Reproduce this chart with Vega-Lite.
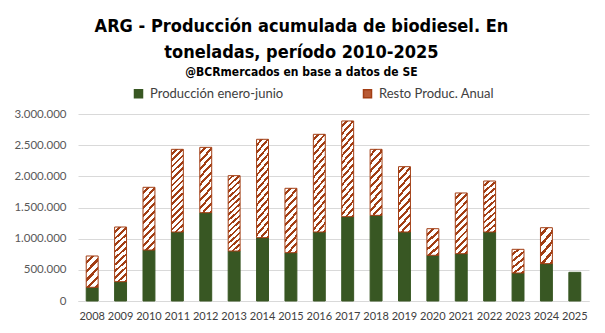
{
  "$schema": "https://vega.github.io/schema/vega-lite/v6.json",
  "width": 511,
  "height": 187,
  "autosize": "none",
  "padding": {"left": 78, "top": 114, "right": 16, "bottom": 32},
  "background": "white",
  "title": {
    "text": ["ARG - Producción acumulada de biodiesel. En", "toneladas, período 2010-2025"],
    "subtitle": "@BCRmercados en base a datos de SE",
    "anchor": "middle",
    "frame": "bounds",
    "font": "DejaVu Sans Condensed, Roboto, sans-serif",
    "fontSize": 18,
    "fontWeight": "bold",
    "color": "#000000",
    "lineHeight": 26,
    "subtitleFont": "DejaVu Sans Condensed, Roboto, sans-serif",
    "subtitleFontSize": 12,
    "subtitleFontWeight": "bold",
    "subtitleColor": "#000000",
    "subtitlePadding": 5,
    "offset": 9
  },
  "data": {
    "values": [
      {"anio": "2008", "serie": "Producción enero-junio", "valor": 220000},
      {"anio": "2009", "serie": "Producción enero-junio", "valor": 310000},
      {"anio": "2010", "serie": "Producción enero-junio", "valor": 818000},
      {"anio": "2011", "serie": "Producción enero-junio", "valor": 1107000},
      {"anio": "2012", "serie": "Producción enero-junio", "valor": 1417000},
      {"anio": "2013", "serie": "Producción enero-junio", "valor": 802000},
      {"anio": "2014", "serie": "Producción enero-junio", "valor": 1016000},
      {"anio": "2015", "serie": "Producción enero-junio", "valor": 775000},
      {"anio": "2016", "serie": "Producción enero-junio", "valor": 1107000},
      {"anio": "2017", "serie": "Producción enero-junio", "valor": 1353000},
      {"anio": "2018", "serie": "Producción enero-junio", "valor": 1374000},
      {"anio": "2019", "serie": "Producción enero-junio", "valor": 1107000},
      {"anio": "2020", "serie": "Producción enero-junio", "valor": 733000},
      {"anio": "2021", "serie": "Producción enero-junio", "valor": 759000},
      {"anio": "2022", "serie": "Producción enero-junio", "valor": 1107000},
      {"anio": "2023", "serie": "Producción enero-junio", "valor": 449000},
      {"anio": "2024", "serie": "Producción enero-junio", "valor": 599000},
      {"anio": "2025", "serie": "Producción enero-junio", "valor": 460000},
      {"anio": "2008", "serie": "Resto Produc. Anual", "valor": 502000},
      {"anio": "2009", "serie": "Resto Produc. Anual", "valor": 877000},
      {"anio": "2010", "serie": "Resto Produc. Anual", "valor": 1006000},
      {"anio": "2011", "serie": "Resto Produc. Anual", "valor": 1326000},
      {"anio": "2012", "serie": "Resto Produc. Anual", "valor": 1048000},
      {"anio": "2013", "serie": "Resto Produc. Anual", "valor": 1209000},
      {"anio": "2014", "serie": "Resto Produc. Anual", "valor": 1578000},
      {"anio": "2015", "serie": "Resto Produc. Anual", "valor": 1033000},
      {"anio": "2016", "serie": "Resto Produc. Anual", "valor": 1567000},
      {"anio": "2017", "serie": "Resto Produc. Anual", "valor": 1535000},
      {"anio": "2018", "serie": "Resto Produc. Anual", "valor": 1059000},
      {"anio": "2019", "serie": "Resto Produc. Anual", "valor": 1048000},
      {"anio": "2020", "serie": "Resto Produc. Anual", "valor": 427000},
      {"anio": "2021", "serie": "Resto Produc. Anual", "valor": 974000},
      {"anio": "2022", "serie": "Resto Produc. Anual", "valor": 818000},
      {"anio": "2023", "serie": "Resto Produc. Anual", "valor": 380000},
      {"anio": "2024", "serie": "Resto Produc. Anual", "valor": 577000}
    ]
  },
  "mark": {"type": "bar", "strokeWidth": 1},
  "encoding": {
    "x": {
      "field": "anio",
      "type": "ordinal",
      "scale": {"paddingInner": 0.58, "paddingOuter": 0.29},
      "axis": {
        "title": null,
        "labelAngle": 0,
        "labelFont": "Lato",
        "labelFontSize": 11,
        "labelColor": "#404040",
        "ticks": false,
        "domain": true,
        "domainColor": "#D9D9D9",
        "labelPadding": 9
      }
    },
    "y": {
      "field": "valor",
      "type": "quantitative",
      "stack": "zero",
      "scale": {"domain": [0, 3000000], "nice": false},
      "axis": {
        "title": null,
        "values": [0, 500000, 1000000, 1500000, 2000000, 2500000, 3000000],
        "labelExpr": "replace(format(datum.value, ','), /,/g, '.')",
        "grid": true,
        "gridColor": "#D9D9D9",
        "domain": false,
        "ticks": false,
        "labelPadding": 12,
        "labelFont": "Lato",
        "labelFontSize": 11.5,
        "labelColor": "#595959"
      }
    },
    "order": {"field": "serie", "sort": "ascending"},
    "fill": {
      "field": "serie",
      "type": "nominal",
      "scale": {
        "domain": ["Producción enero-junio", "Resto Produc. Anual"],
        "range": ["#385723", "#B85A35"]
      },
      "legend": {
        "title": null,
        "orient": "none",
        "legendX": 54,
        "legendY": -27,
        "direction": "horizontal",
        "symbolType": "square",
        "symbolSize": 64,
        "labelFont": "Lato",
        "labelFontSize": 13,
        "labelColor": "#404040",
        "labelOffset": 5,
        "columnPadding": 76
      },
      "condition": [
        {
          "test": "datum.serie === 'Resto Produc. Anual' && datum.valor > 1150000",
          "value": {"gradient": "linear", "x1": 0, "y1": 0, "x2": 0.16, "y2": 1.12, "stops": [
            {"offset": 0, "color": "#FFFFFF"}, {"offset": 0.04, "color": "#FFFFFF"}, {"offset": 0.04, "color": "#A23E14"}, {"offset": 0.0667, "color": "#A23E14"},
            {"offset": 0.0667, "color": "#FFFFFF"}, {"offset": 0.1067, "color": "#FFFFFF"}, {"offset": 0.1067, "color": "#A23E14"}, {"offset": 0.1333, "color": "#A23E14"},
            {"offset": 0.1333, "color": "#FFFFFF"}, {"offset": 0.1733, "color": "#FFFFFF"}, {"offset": 0.1733, "color": "#A23E14"}, {"offset": 0.2, "color": "#A23E14"},
            {"offset": 0.2, "color": "#FFFFFF"}, {"offset": 0.24, "color": "#FFFFFF"}, {"offset": 0.24, "color": "#A23E14"}, {"offset": 0.2667, "color": "#A23E14"},
            {"offset": 0.2667, "color": "#FFFFFF"}, {"offset": 0.3067, "color": "#FFFFFF"}, {"offset": 0.3067, "color": "#A23E14"}, {"offset": 0.3333, "color": "#A23E14"},
            {"offset": 0.3333, "color": "#FFFFFF"}, {"offset": 0.3733, "color": "#FFFFFF"}, {"offset": 0.3733, "color": "#A23E14"}, {"offset": 0.4, "color": "#A23E14"},
            {"offset": 0.4, "color": "#FFFFFF"}, {"offset": 0.44, "color": "#FFFFFF"}, {"offset": 0.44, "color": "#A23E14"}, {"offset": 0.4667, "color": "#A23E14"},
            {"offset": 0.4667, "color": "#FFFFFF"}, {"offset": 0.5067, "color": "#FFFFFF"}, {"offset": 0.5067, "color": "#A23E14"}, {"offset": 0.5333, "color": "#A23E14"},
            {"offset": 0.5333, "color": "#FFFFFF"}, {"offset": 0.5733, "color": "#FFFFFF"}, {"offset": 0.5733, "color": "#A23E14"}, {"offset": 0.6, "color": "#A23E14"},
            {"offset": 0.6, "color": "#FFFFFF"}, {"offset": 0.64, "color": "#FFFFFF"}, {"offset": 0.64, "color": "#A23E14"}, {"offset": 0.6667, "color": "#A23E14"},
            {"offset": 0.6667, "color": "#FFFFFF"}, {"offset": 0.7067, "color": "#FFFFFF"}, {"offset": 0.7067, "color": "#A23E14"}, {"offset": 0.7333, "color": "#A23E14"},
            {"offset": 0.7333, "color": "#FFFFFF"}, {"offset": 0.7733, "color": "#FFFFFF"}, {"offset": 0.7733, "color": "#A23E14"}, {"offset": 0.8, "color": "#A23E14"},
            {"offset": 0.8, "color": "#FFFFFF"}, {"offset": 0.84, "color": "#FFFFFF"}, {"offset": 0.84, "color": "#A23E14"}, {"offset": 0.8667, "color": "#A23E14"},
            {"offset": 0.8667, "color": "#FFFFFF"}, {"offset": 0.9067, "color": "#FFFFFF"}, {"offset": 0.9067, "color": "#A23E14"}, {"offset": 0.9333, "color": "#A23E14"},
            {"offset": 0.9333, "color": "#FFFFFF"}, {"offset": 0.9733, "color": "#FFFFFF"}, {"offset": 0.9733, "color": "#A23E14"}, {"offset": 1, "color": "#A23E14"}
          ]}
        },
        {
          "test": "datum.serie === 'Resto Produc. Anual' && datum.valor > 650000",
          "value": {"gradient": "linear", "x1": 0, "y1": 0, "x2": 0.23, "y2": 1.15, "stops": [
            {"offset": 0, "color": "#FFFFFF"}, {"offset": 0.06, "color": "#FFFFFF"}, {"offset": 0.06, "color": "#A23E14"}, {"offset": 0.1, "color": "#A23E14"},
            {"offset": 0.1, "color": "#FFFFFF"}, {"offset": 0.16, "color": "#FFFFFF"}, {"offset": 0.16, "color": "#A23E14"}, {"offset": 0.2, "color": "#A23E14"},
            {"offset": 0.2, "color": "#FFFFFF"}, {"offset": 0.26, "color": "#FFFFFF"}, {"offset": 0.26, "color": "#A23E14"}, {"offset": 0.3, "color": "#A23E14"},
            {"offset": 0.3, "color": "#FFFFFF"}, {"offset": 0.36, "color": "#FFFFFF"}, {"offset": 0.36, "color": "#A23E14"}, {"offset": 0.4, "color": "#A23E14"},
            {"offset": 0.4, "color": "#FFFFFF"}, {"offset": 0.46, "color": "#FFFFFF"}, {"offset": 0.46, "color": "#A23E14"}, {"offset": 0.5, "color": "#A23E14"},
            {"offset": 0.5, "color": "#FFFFFF"}, {"offset": 0.56, "color": "#FFFFFF"}, {"offset": 0.56, "color": "#A23E14"}, {"offset": 0.6, "color": "#A23E14"},
            {"offset": 0.6, "color": "#FFFFFF"}, {"offset": 0.66, "color": "#FFFFFF"}, {"offset": 0.66, "color": "#A23E14"}, {"offset": 0.7, "color": "#A23E14"},
            {"offset": 0.7, "color": "#FFFFFF"}, {"offset": 0.76, "color": "#FFFFFF"}, {"offset": 0.76, "color": "#A23E14"}, {"offset": 0.8, "color": "#A23E14"},
            {"offset": 0.8, "color": "#FFFFFF"}, {"offset": 0.86, "color": "#FFFFFF"}, {"offset": 0.86, "color": "#A23E14"}, {"offset": 0.9, "color": "#A23E14"},
            {"offset": 0.9, "color": "#FFFFFF"}, {"offset": 0.96, "color": "#FFFFFF"}, {"offset": 0.96, "color": "#A23E14"}, {"offset": 1, "color": "#A23E14"}
          ]}
        },
        {
          "test": "datum.serie === 'Resto Produc. Anual'",
          "value": {"gradient": "linear", "x1": 0, "y1": 0, "x2": 0.48, "y2": 1.2, "stops": [
            {"offset": 0, "color": "#FFFFFF"}, {"offset": 0.12, "color": "#FFFFFF"}, {"offset": 0.12, "color": "#A23E14"}, {"offset": 0.2, "color": "#A23E14"},
            {"offset": 0.2, "color": "#FFFFFF"}, {"offset": 0.32, "color": "#FFFFFF"}, {"offset": 0.32, "color": "#A23E14"}, {"offset": 0.4, "color": "#A23E14"},
            {"offset": 0.4, "color": "#FFFFFF"}, {"offset": 0.52, "color": "#FFFFFF"}, {"offset": 0.52, "color": "#A23E14"}, {"offset": 0.6, "color": "#A23E14"},
            {"offset": 0.6, "color": "#FFFFFF"}, {"offset": 0.72, "color": "#FFFFFF"}, {"offset": 0.72, "color": "#A23E14"}, {"offset": 0.8, "color": "#A23E14"},
            {"offset": 0.8, "color": "#FFFFFF"}, {"offset": 0.92, "color": "#FFFFFF"}, {"offset": 0.92, "color": "#A23E14"}, {"offset": 1, "color": "#A23E14"}
          ]}
        }
      ]
    },
    "stroke": {
      "field": "serie",
      "type": "nominal",
      "scale": {
        "domain": ["Producción enero-junio", "Resto Produc. Anual"],
        "range": ["#385723", "#A23E14"]
      },
      "legend": {
        "title": null,
        "orient": "none",
        "legendX": 54,
        "legendY": -27,
        "direction": "horizontal",
        "symbolType": "square",
        "symbolSize": 64,
        "labelFont": "Lato",
        "labelFontSize": 13,
        "labelColor": "#404040",
        "labelOffset": 5,
        "columnPadding": 76
      }
    }
  },
  "config": {"view": {"stroke": null}}
}
